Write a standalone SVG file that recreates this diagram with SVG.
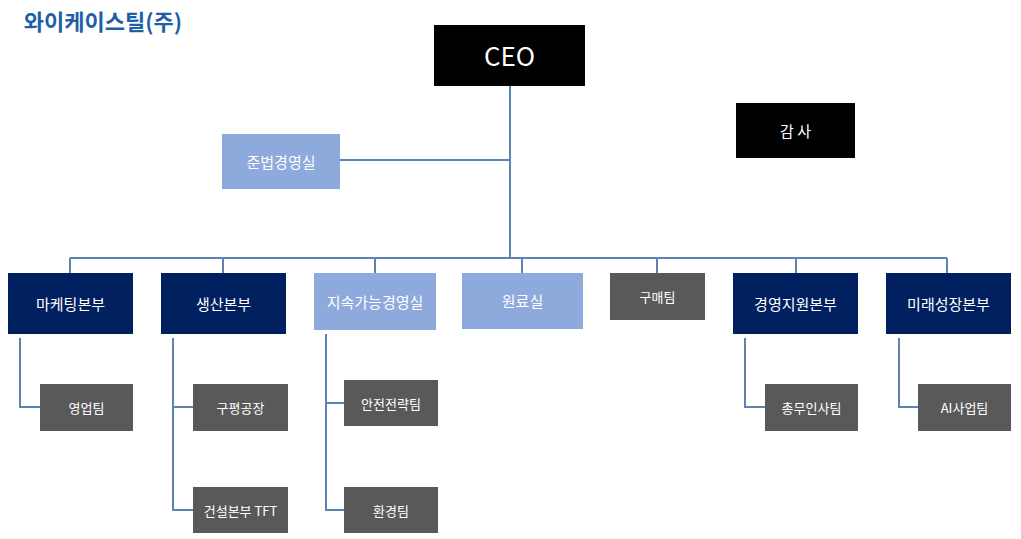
<svg xmlns="http://www.w3.org/2000/svg" width="1021" height="539" viewBox="0 0 1021 539">
<style>
text{font-family:"Noto Sans CJK KR","Liberation Sans",sans-serif;text-anchor:middle;dominant-baseline:central;fill:#fff}
.nv{fill:#002060}.lb{fill:#8EA9DB}.gr{fill:#595959}.bk{fill:#000}
.t{font-size:15px}.s{font-size:13px}
#connectors path{fill:none;stroke:#5B84B1;stroke-width:2}
</style>
<rect width="1021" height="539" fill="#fff"/>
<text x="103" y="20" style="font-size:22px;font-weight:bold;fill:#1F5FA8">와이케이스틸(주)</text>
<g id="connectors">
<path d="M510 86V258M340 160H510M70 258H947M70 258V273M223 258V273M375 258V273M522 258V273M657 258V273M796 258V273M947 258V273"/>
<path d="M20 338V407H40M173 338V510H193M173 407H193M326 334V510H344M326 403H344M745 338V407H765M899 338V407H918"/>
</g>
<g id="ceo"><rect class="bk" x="434" y="25" width="151" height="61"/><text x="509.5" y="54" style="font-size:26px">CEO</text></g>
<g id="audit"><rect class="bk" x="736" y="103" width="119" height="55"/><text class="t" x="795.5" y="130">감 사</text></g>
<g id="compliance"><rect class="lb" x="222" y="134" width="118" height="55"/><text class="t" x="281" y="161">준법경영실</text></g>
<g id="marketing"><rect class="nv" x="8" y="273" width="125" height="61"/><text class="t" x="70.5" y="303">마케팅본부</text></g>
<g id="production"><rect class="nv" x="161" y="273" width="125" height="61"/><text class="t" x="223.5" y="303">생산본부</text></g>
<g id="sustain"><rect class="lb" x="314" y="273" width="122" height="57"/><text class="t" x="375" y="301">지속가능경영실</text></g>
<g id="material"><rect class="lb" x="462" y="273" width="121" height="56"/><text class="t" x="522.5" y="300">원료실</text></g>
<g id="purchase"><rect class="gr" x="610" y="273" width="95" height="47"/><text class="s" x="657.5" y="296">구매팀</text></g>
<g id="support"><rect class="nv" x="733" y="273" width="125" height="61"/><text class="t" x="795.5" y="303">경영지원본부</text></g>
<g id="future"><rect class="nv" x="886" y="273" width="125" height="61"/><text class="t" x="948.5" y="303">미래성장본부</text></g>
<g id="sales"><rect class="gr" x="40" y="384" width="93" height="47"/><text class="s" x="86.5" y="407">영업팀</text></g>
<g id="gupyeong"><rect class="gr" x="193" y="384" width="95" height="47"/><text class="s" x="240.5" y="407">구평공장</text></g>
<g id="construction"><rect class="gr" x="193" y="487" width="95" height="46"/><text class="s" x="240.5" y="510">건설본부 TFT</text></g>
<g id="safety"><rect class="gr" x="344" y="380" width="94" height="46"/><text class="s" x="391" y="403">안전전략팀</text></g>
<g id="env"><rect class="gr" x="344" y="487" width="94" height="46"/><text class="s" x="391" y="510">환경팀</text></g>
<g id="hr"><rect class="gr" x="765" y="384" width="93" height="47"/><text class="s" x="811.5" y="407">총무인사팀</text></g>
<g id="ai"><rect class="gr" x="918" y="384" width="93" height="47"/><text class="s" x="964.5" y="407">AI사업팀</text></g>
</svg>
